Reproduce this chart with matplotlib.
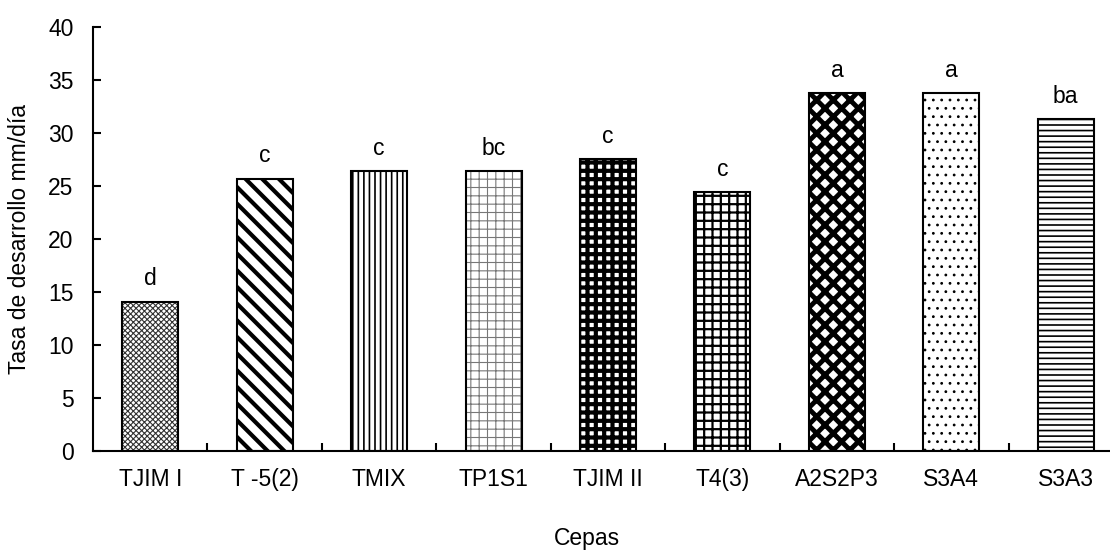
import matplotlib
matplotlib.use('Agg')
import matplotlib.pyplot as plt
import numpy as np

plt.rcParams['font.family'] = ['Liberation Sans', 'DejaVu Sans']
plt.rcParams['hatch.color'] = 'black'

cepas = ['TJIM I', 'T -5(2)', 'TMIX', 'TP1S1', 'TJIM II', 'T4(3)', 'A2S2P3', 'S3A4', 'S3A3']
tasa = [14.1, 25.7, 26.4, 26.4, 27.5, 24.4, 33.8, 33.8, 31.3]
letras = ['d', 'c', 'c', 'bc', 'c', 'c', 'a', 'a', 'ba']

# patrones aproximados de cada barra: (hatch, grosor, color del hatch)
patrones = [
    ('xxxxxx', 0.8, '#333333'),
    ('\\\\', 3.0, 'black'),
    ('|||', 1.2, 'black'),
    ('++', 0.8, '#777777'),
    ('++', 3.0, 'black'),
    ('++', 1.6, 'black'),
    ('xx', 3.5, 'black'),
    ('..', 0.8, 'black'),
    ('---', 1.2, 'black'),
]

FS = 16.5

fig = plt.figure(figsize=(11.1, 5.5), dpi=100)
ax = fig.add_axes([93 / 1110, 99 / 550, 1030 / 1110, 424 / 550])

x = np.arange(len(cepas))
bars = ax.bar(x, tasa, width=0.49, color='white', edgecolor='black', linewidth=1.5)
for b, (h, lw, hc) in zip(bars, patrones):
    b.set_hatch(h)
    try:
        b.set_hatch_linewidth(lw)
    except AttributeError:
        pass
    b._hatch_color = matplotlib.colors.to_rgba(hc)

for xi, v, t in zip(x, tasa, letras):
    ax.annotate(t, (xi, v), xytext=(0, 8), textcoords='offset points',
                ha='center', va='bottom', fontsize=FS)

ax.set_xlim(-0.5, 8.5)
ax.set_ylim(0, 40)
ax.set_yticks(range(0, 41, 5))
ax.set_xticks(x)
ax.set_xticklabels(cepas)
ax.set_xticks(np.arange(0.5, 8.5, 1), minor=True)
ax.tick_params(axis='x', which='major', length=0, pad=12, labelsize=FS)
ax.tick_params(axis='x', which='minor', direction='in', length=6, width=1.5)
ax.tick_params(axis='y', direction='in', length=6, width=1.5, labelsize=FS, pad=14)

for s in ['top', 'right']:
    ax.spines[s].set_visible(False)
for s in ['left', 'bottom']:
    ax.spines[s].set_linewidth(1.5)

ax.set_ylabel('Tasa de desarrollo mm/día', fontsize=FS, labelpad=10)
ax.yaxis.set_label_coords(-62 / 1030, 0.5)
fig.text(587 / 1110, 1 - 539 / 550, 'Cepas', ha='center', va='center', fontsize=FS)

plt.savefig('out.png', dpi=100)
